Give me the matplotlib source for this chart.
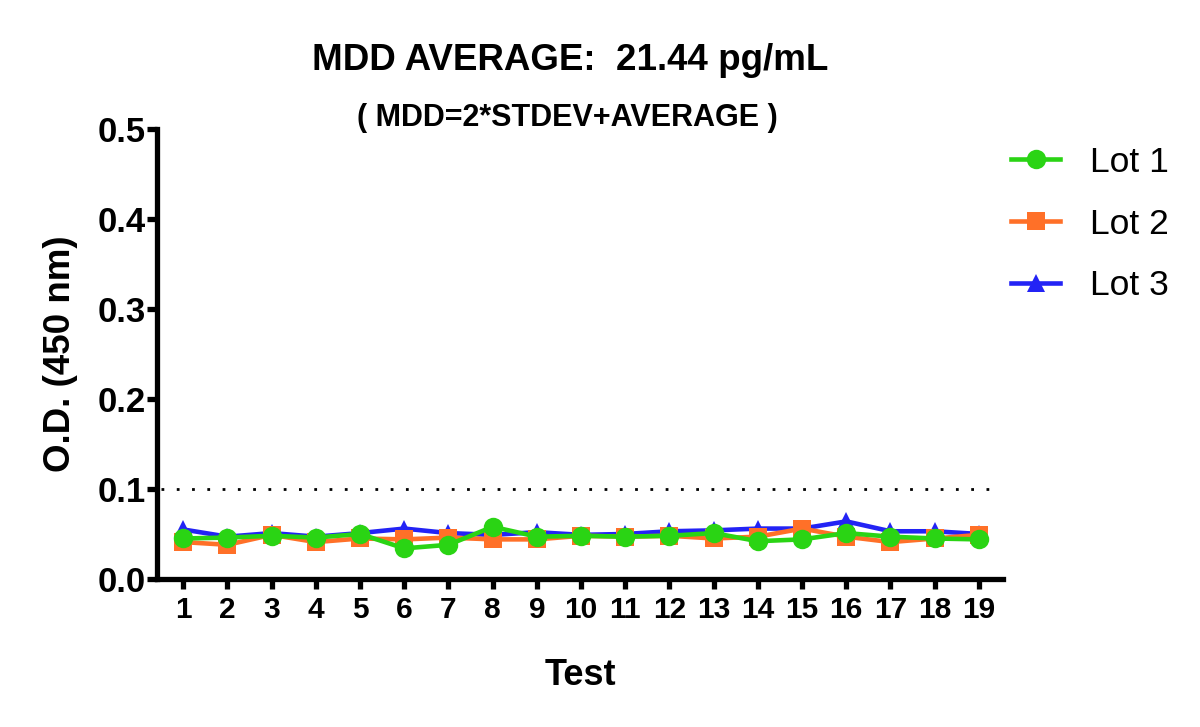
import matplotlib
matplotlib.use("Agg")
import matplotlib.pyplot as plt

plt.rcParams['font.family'] = ['Liberation Sans', 'DejaVu Sans']

tests = list(range(1, 20))
lot1 = [0.045, 0.046, 0.048, 0.046, 0.050, 0.034, 0.038, 0.058, 0.047, 0.048,
        0.047, 0.048, 0.051, 0.042, 0.044, 0.051, 0.047, 0.045, 0.044]
lot2 = [0.041, 0.038, 0.049, 0.041, 0.045, 0.044, 0.046, 0.044, 0.044, 0.048,
        0.047, 0.048, 0.045, 0.047, 0.056, 0.047, 0.041, 0.045, 0.049]
lot3 = [0.055, 0.047, 0.051, 0.047, 0.051, 0.056, 0.051, 0.049, 0.052, 0.049,
        0.050, 0.053, 0.054, 0.056, 0.056, 0.064, 0.053, 0.053, 0.050]
threshold = 0.1
yticks = [0.0, 0.1, 0.2, 0.3, 0.4, 0.5]

c_green = '#2ad414'
c_orange = '#ff7028'
c_blue = '#2323f5'

fig = plt.figure(figsize=(12, 7.27), dpi=100)
ax = fig.add_axes([0.131, 0.2036, 0.705, 0.619])

ax.axhline(threshold, color='black', lw=2, linestyle=(0, (1, 4.5)), zorder=1,
           xmin=0.005, xmax=0.995)

h3, = ax.plot(tests, lot3, color=c_blue, lw=3.3, marker='^', markersize=13,
              markeredgewidth=0, zorder=2, label='Lot 3')
h2, = ax.plot(tests, lot2, color=c_orange, lw=3.3, marker='s', markersize=12.5,
              markeredgewidth=0, zorder=3, label='Lot 2')
h1, = ax.plot(tests, lot1, color=c_green, lw=3.3, marker='o', markersize=14,
              markeredgewidth=0, zorder=4, label='Lot 1')

ax.set_xlim(0.41, 19.55)
ax.set_ylim(0, 0.5)
ax.set_xticks(tests)
ax.set_yticks(yticks)
ax.set_yticklabels([f'{v:.1f}' for v in yticks])

for s in ['top', 'right']:
    ax.spines[s].set_visible(False)
for s in ['left', 'bottom']:
    ax.spines[s].set_linewidth(3.8)
ax.tick_params(axis='both', width=3.8, length=7, direction='out')
ax.tick_params(axis='y', labelsize=25, pad=1)
ax.tick_params(axis='x', labelsize=21.5, pad=5)
for lab in ax.get_xticklabels() + ax.get_yticklabels():
    lab.set_fontweight('bold')

ax.set_xlabel('Test', fontsize=26, fontweight='bold', labelpad=25)
ax.set_ylabel('O.D. (450 nm)', fontsize=26.5, fontweight='bold', labelpad=14)

fig.text(0.475, 0.917, 'MDD AVERAGE:  21.44 pg/mL', fontsize=26.5,
         fontweight='bold', ha='center', va='center')
fig.text(0.473, 0.838, '( MDD=2*STDEV+AVERAGE )', fontsize=22,
         fontweight='bold', ha='center', va='center')

ax.legend(handles=[h1, h2, h3], loc='upper left', bbox_to_anchor=(0.993, 0.994),
          frameon=False, fontsize=25.5, handlelength=1.38, handletextpad=0.83,
          labelspacing=0.81, borderaxespad=0)

fig.savefig('out.png', dpi=100)
